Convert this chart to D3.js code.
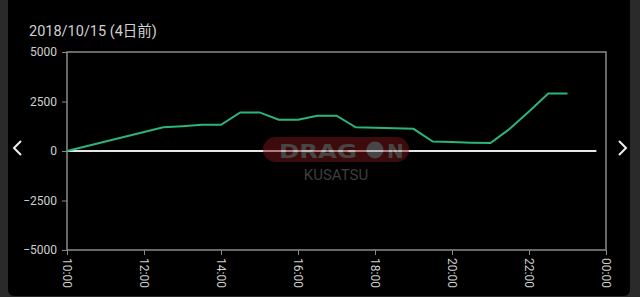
<!DOCTYPE html>
<html>
<head>
<meta charset="utf-8">
<script src="https://cdn.jsdelivr.net/npm/d3@7"></script>
<style>
  html, body { margin: 0; padding: 0; background: #2a2a2a; overflow: hidden; }
  svg { display: block; }
  .axis text { fill: #cfcfcf; font-family: Roboto, "Noto Sans", sans-serif; font-size: 12px; }
  .axis path, .axis line { stroke: #8a8a8a; }
</style>
</head>
<body>
<div id="chart"></div>
<script>
//////////////////////// Data ////////////////////////
var title = "2018/10/15 (4日前)";

// sample times (every 30 min where the line bends)
var times = ["10:00","12:30","13:00","13:30","14:00","14:30","15:00","15:30","16:00",
             "16:30","17:00","17:30","18:00","18:30","19:00","19:30","20:00","20:30",
             "21:00","21:30","22:00","22:30","23:00"];
var values = [0,1200,1250,1320,1320,1950,1950,1580,1580,
              1780,1780,1200,1180,1150,1120,480,460,420,
              400,1120,2000,2900,2900];

var yTicks = [5000, 2500, 0, -2500, -5000];
var xTickLabels = ["10:00","12:00","14:00","16:00","18:00","20:00","22:00","00:00"];

//////////////////////// Set-up ////////////////////////
var W = 640, H = 297;
var margin = {top: 52, left: 67, right: 34, bottom: 47},
    width = W - margin.left - margin.right,
    height = H - margin.top - margin.bottom;

function toHour(s) {
  var p = s.split(":"), h = +p[0] + (+p[1]) / 60;
  return h < 10 ? h + 24 : h; // 00:00 is the next midnight
}

var x = d3.scaleLinear().domain([10, 24]).range([0, width]);
var y = d3.scaleLinear().domain([-5000, 5000]).range([height, 0]);

var svg = d3.select("#chart").append("svg")
    .attr("width", W)
    .attr("height", H);

// black panel with rounded bottom
svg.append("rect")
  .attr("x", 8).attr("y", -10)
  .attr("width", 622).attr("height", 306)
  .attr("rx", 6)
  .style("fill", "#000");

// title
svg.append("text")
  .attr("x", 29).attr("y", 36)
  .style("fill", "#d0d0d0")
  .style("font-family", "Roboto, 'Noto Sans', 'Noto Sans CJK JP', sans-serif")
  .style("font-size", "14.5px")
  .text(title);

// nav arrows
[{x: 17, d: -1}, {x: 623, d: 1}].forEach(function(a) {
  svg.append("path")
    .attr("d", "M" + (a.x - 4 * a.d) + "," + 141 + " L" + (a.x + 3 * a.d) + "," + 148 + " L" + (a.x - 4 * a.d) + "," + 155)
    .style("fill", "none").style("stroke", "#eee").style("stroke-width", 2);
});

var g = svg.append("g")
  .attr("transform", "translate(" + margin.left + "," + margin.top + ")");

// frame
g.append("rect")
  .attr("width", width).attr("height", height)
  .style("fill", "none").style("stroke", "#8a8a8a").style("stroke-width", 1.5);

// y axis
var yAxis = d3.axisLeft(y).tickValues(yTicks).tickFormat(d3.format("d")).tickSize(5).tickPadding(5);
g.append("g").attr("class", "y axis").call(yAxis)
  .call(function(s) { s.select(".domain").remove(); });

// x axis
var xAxis = d3.axisBottom(x)
  .tickValues(xTickLabels.map(toHour))
  .tickFormat(function(d, i) { return xTickLabels[i]; })
  .tickSize(5);
g.append("g").attr("class", "x axis")
  .attr("transform", "translate(0," + height + ")")
  .call(xAxis)
  .call(function(s) { s.select(".domain").remove(); })
  .selectAll("text")
    .attr("transform", "rotate(90)")
    .attr("x", 8).attr("y", 0).attr("dy", "0.35em")
    .style("text-anchor", "start");

// zero line
g.append("line")
  .attr("x1", 0).attr("x2", x(toHour("23:45")))
  .attr("y1", y(0)).attr("y2", y(0))
  .style("stroke", "#e6e6e6").style("stroke-width", 2);

// data line
var line = d3.line()
  .x(function(d, i) { return x(toHour(times[i])); })
  .y(function(d) { return y(d); });

g.append("path")
  .datum(values)
  .attr("d", line)
  .style("fill", "none")
  .style("stroke", "#2bb57b")
  .style("stroke-width", 2);

// watermark
var wm = svg.append("g").style("opacity", 0.5);
wm.append("rect")
  .attr("x", 263).attr("y", 137).attr("width", 146).attr("height", 25).attr("rx", 12.5)
  .style("fill", "#7a1616");
wm.append("text")
  .attr("x", 279).attr("y", 158)
  .attr("textLength", 78).attr("lengthAdjust", "spacingAndGlyphs")
  .style("fill", "#8c8c8c").style("font-family", "'DejaVu Sans', sans-serif")
  .style("font-weight", "bold").style("font-size", "20px")
  .text("DRAG");
wm.append("circle").attr("cx", 375).attr("cy", 150).attr("r", 8.5).style("fill", "#8c8c8c");
wm.append("text")
  .attr("x", 387).attr("y", 158)
  .style("fill", "#8c8c8c").style("font-family", "'DejaVu Sans', sans-serif")
  .style("font-weight", "bold").style("font-size", "20px")
  .text("N");
wm.append("text")
  .attr("x", 336).attr("y", 180)
  .style("fill", "#7a7a7a").style("font-family", "Roboto, sans-serif")
  .style("font-size", "15px").style("text-anchor", "middle")
  .text("KUSATSU");
</script>
</body>
</html>
